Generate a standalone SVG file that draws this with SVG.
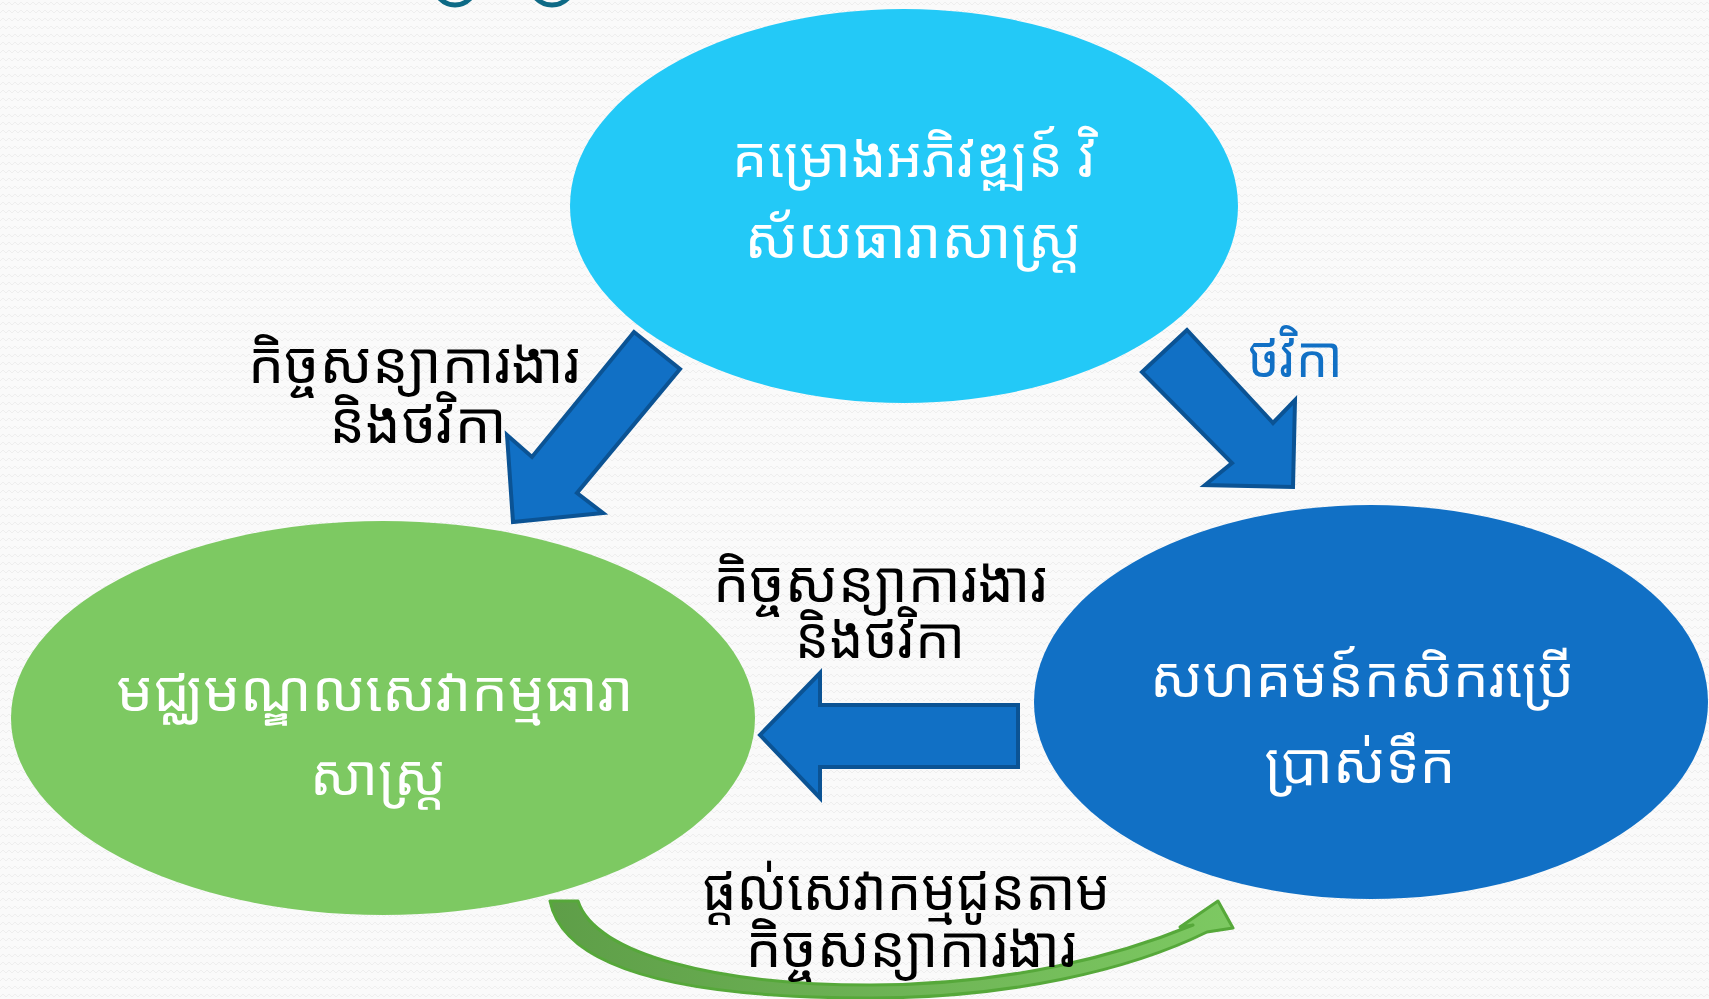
<svg xmlns="http://www.w3.org/2000/svg" width="1709" height="999" viewBox="0 0 1709 999">
<style>
.kh{font-family:"Noto Sans Khmer","Noto Serif Khmer","Khmer OS","Khmer OS System",sans-serif;text-anchor:middle}
.wt{fill:#FFFFFF;font-size:56px}
.bk{fill:#000000;font-size:57px}
.bl{fill:#1170C5;font-size:57px}
.blk{fill:#1170C5;stroke:#0B5394;stroke-width:4;stroke-linejoin:miter}
</style>
<defs>
<pattern id="bgp" width="12" height="8" patternUnits="userSpaceOnUse">
<rect width="12" height="8" fill="#FAFAFA"/>
<path d="M0,5 L3,2 L6,5 L9,2 L12,5" fill="none" stroke="#EEEEEE" stroke-width="1"/>
</pattern>
<linearGradient id="gg" x1="550" y1="0" x2="1233" y2="0" gradientUnits="userSpaceOnUse">
<stop offset="0" stop-color="#5E9E48"/>
<stop offset="1" stop-color="#7DC962"/>
</linearGradient>
</defs>
<rect width="1709" height="999" fill="url(#bgp)"/>
<g id="title-fragment" fill="none" stroke="#0E6A86" stroke-width="5">
<circle cx="455" cy="-16" r="21"/>
<circle cx="552" cy="-17" r="22"/>
</g>
<g id="node-project">
<ellipse cx="904" cy="206" rx="334" ry="197" fill="#23C9F7"/>
<text class="kh wt" x="914" y="177" textLength="364" lengthAdjust="spacingAndGlyphs">គម្រោងអភិវឌ្ឍន៍ វិ</text>
<text class="kh wt" x="913" y="258" textLength="337" lengthAdjust="spacingAndGlyphs">ស័យធារាសាស្ត្រ</text>
</g>
<g id="node-center">
<ellipse cx="383" cy="718" rx="372" ry="197" fill="#7DC962"/>
<text class="kh wt" x="375" y="711" textLength="517" lengthAdjust="spacingAndGlyphs">មជ្ឈមណ្ឌលសេវាកម្មធារា</text>
<text class="kh wt" x="378" y="795" textLength="136" lengthAdjust="spacingAndGlyphs">សាស្ត្រ</text>
</g>
<g id="node-community">
<ellipse cx="1371" cy="702" rx="337" ry="197" fill="#1170C5"/>
<text class="kh wt" x="1362" y="697" textLength="424" lengthAdjust="spacingAndGlyphs">សហគមន៍កសិករប្រើ</text>
<text class="kh wt" x="1360" y="783" textLength="191" lengthAdjust="spacingAndGlyphs">ប្រាស់ទឹក</text>
</g>
<g id="connectors">
<polygon class="blk" points="634,332 680,369 577,493 603,513 513,522 507,435 532,457"/>
<polygon class="blk" points="1187,330 1142,372 1232,463 1205,485 1293,487 1295,400 1273,423"/>
<polygon class="blk" points="1018,705 820,705 820,673 760,735 820,798 820,767 1018,767"/>
<path d="M550,901 L578,901 C595,955 720,985 870,985 C1010,985 1120,955 1193,925 L1180,927 L1218,901 L1233,928 L1207,932 C1130,970 1010,998 870,998 C700,998 565,975 550,901 Z" fill="url(#gg)" stroke="#56A83A" stroke-width="3" stroke-linejoin="round"/>
<text class="kh bk" x="414" y="383" textLength="332" lengthAdjust="spacingAndGlyphs">កិច្ចសន្យាការងារ</text>
<text class="kh bk" x="418" y="443" textLength="177" lengthAdjust="spacingAndGlyphs">និងថវិកា</text>
<text class="kh bl" x="1295" y="377" textLength="95" lengthAdjust="spacingAndGlyphs">ថវិកា</text>
<text class="kh bk" x="880" y="602" textLength="334" lengthAdjust="spacingAndGlyphs">កិច្ចសន្យាការងារ</text>
<text class="kh bk" x="880" y="658" textLength="170" lengthAdjust="spacingAndGlyphs">និងថវិកា</text>
<text class="kh bk" x="906" y="910" textLength="408" lengthAdjust="spacingAndGlyphs">ផ្ដល់សេវាកម្មជូនតាម</text>
<text class="kh bk" x="911" y="967" textLength="331" lengthAdjust="spacingAndGlyphs">កិច្ចសន្យាការងារ</text>
</g>
</svg>
